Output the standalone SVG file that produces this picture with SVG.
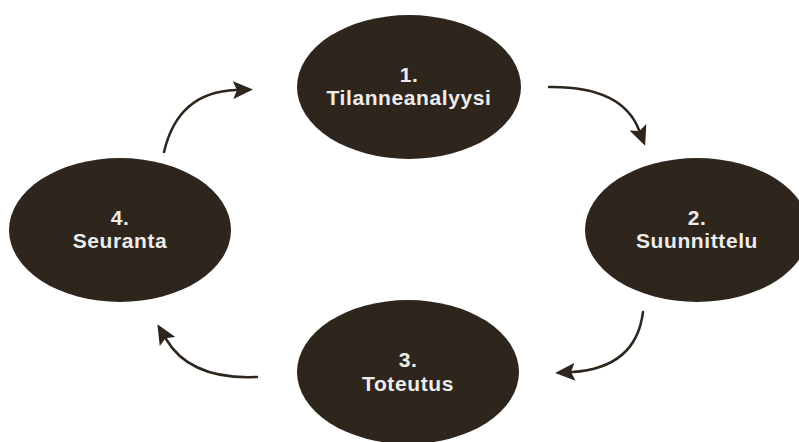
<svg xmlns="http://www.w3.org/2000/svg" width="799" height="442" viewBox="0 0 799 442">
<style>
.node{fill:#2e261c}
.lbl{font-family:"Liberation Sans",Arial,sans-serif;font-weight:bold;font-size:21px;fill:#ececec;text-anchor:middle;letter-spacing:0.6px}
.conn{fill:none;stroke:#2e261c;stroke-width:2.5;stroke-linecap:round}
</style>
<defs>
<marker id="ah" viewBox="0 0 20 18" refX="3" refY="9" markerWidth="20" markerHeight="18" markerUnits="userSpaceOnUse" orient="auto">
<path d="M0,0 L20,9 L0,18 L4,9 z" fill="#2e261c"/>
</marker>
</defs>
<rect width="799" height="442" fill="#ffffff"/>
<g id="n1"><ellipse class="node" cx="409" cy="87" rx="112" ry="72"/><text class="lbl" x="409" y="82">1.</text><text class="lbl" x="409" y="105">Tilanneanalyysi</text></g>
<g id="n2"><ellipse class="node" cx="697" cy="230" rx="112" ry="72"/><text class="lbl" x="697" y="225">2.</text><text class="lbl" x="697" y="248">Suunnittelu</text></g>
<g id="n3"><ellipse class="node" cx="408" cy="372" rx="111" ry="72"/><text class="lbl" x="408" y="367">3.</text><text class="lbl" x="408" y="391">Toteutus</text></g>
<g id="n4"><ellipse class="node" cx="120" cy="230" rx="111" ry="72"/><text class="lbl" x="120" y="225">4.</text><text class="lbl" x="120" y="248">Seuranta</text></g>
<g id="connectors">
<path class="conn" d="M164,152 Q178,92 236,90" marker-end="url(#ah)"/>
<path class="conn" d="M549,87 Q622,86 639,130" marker-end="url(#ah)"/>
<path class="conn" d="M643,312 Q636,368 572,372" marker-end="url(#ah)"/>
<path class="conn" d="M257,377 Q190,380 166,339" marker-end="url(#ah)"/>
</g>
</svg>
